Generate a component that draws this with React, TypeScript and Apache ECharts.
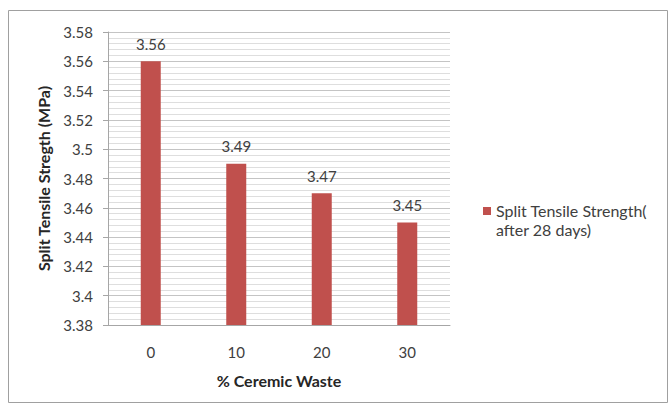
import React, { useEffect, useRef } from "react";
import * as echarts from "echarts";

const categories = ["0", "10", "20", "30"];
const strengthValues = [3.56, 3.49, 3.47, 3.45];
const seriesName = "Split Tensile Strength(\nafter 28 days)";
const yAxisTitle = "Split Tensile Stregth (MPa)";
const xAxisTitle = "% Ceremic Waste";
const yMin = 3.38;
const yMax = 3.58;
const yStep = 0.02;

const FONT = "Lato, 'Open Sans', sans-serif";

export default function App() {
  const ref = useRef<HTMLDivElement>(null);
  useEffect(() => {
    if (!ref.current) return;
    const chart = echarts.init(ref.current, undefined, { renderer: "svg" });
    chart.setOption({
      animation: false,
      backgroundColor: "#ffffff",
      textStyle: { fontFamily: FONT },
      grid: { left: 108, right: 221, top: 32, bottom: 80 },
      legend: {
        show: true,
        left: 478,
        top: 196,
        orient: "vertical",
        itemWidth: 8,
        itemHeight: 26,
        itemGap: 4,
        icon: "path://M0 0H8V8H0Z M0 26H0.01V26.01H0Z",
        textStyle: { color: "#404040", fontSize: 16, lineHeight: 19, fontFamily: FONT },
        selectedMode: false,
        data: [seriesName],
      },
      xAxis: {
        type: "category",
        data: categories,
        name: xAxisTitle,
        nameLocation: "middle",
        nameGap: 47,
        nameTextStyle: { fontWeight: "bold", fontSize: 16, color: "#262626", fontFamily: FONT },
        axisLine: { show: true, lineStyle: { color: "#a6a6a6" } },
        axisTick: { show: false },
        axisLabel: { margin: 19, fontSize: 15, color: "#404040", fontFamily: FONT },
      },
      yAxis: {
        type: "value",
        min: yMin,
        max: yMax,
        interval: yStep,
        name: yAxisTitle,
        nameLocation: "middle",
        nameGap: 57,
        nameTextStyle: { fontWeight: "bold", fontSize: 16, color: "#262626", fontFamily: FONT },
        axisLine: { show: true, lineStyle: { color: "#a6a6a6" } },
        axisTick: { show: true, inside: false, length: 5, lineStyle: { color: "#a6a6a6" } },
        axisLabel: {
          margin: 15,
          fontSize: 15,
          color: "#404040",
          fontFamily: FONT,
          formatter: (v: number) => String(Math.round(v * 100) / 100),
        },
        splitLine: { show: true, lineStyle: { color: "#c4c4c4", width: 1 } },
        minorTick: { show: false, splitNumber: 5 },
        minorSplitLine: { show: true, lineStyle: { color: "#dedede", width: 1 } },
      },
      series: [
        {
          name: seriesName,
          type: "bar",
          data: strengthValues,
          barWidth: 20,
          itemStyle: { color: "#C0504D" },
          label: {
            show: true,
            position: "top",
            distance: 10,
            fontSize: 15,
            color: "#404040",
            fontFamily: FONT,
            formatter: (p: any) => String(p.value),
          },
        },
      ],
      graphic: [
        {
          type: "rect",
          shape: { x: 8.5, y: 10.5, width: 659, height: 392 },
          style: { fill: "none", stroke: "#a0a0a0", lineWidth: 1 },
          silent: true,
        },
      ],
    });
    return () => chart.dispose();
  }, []);
  return (
    <div
      ref={ref}
      style={{ position: "absolute", left: 0, top: 0, width: 671, height: 405 }}
    />
  );
}
